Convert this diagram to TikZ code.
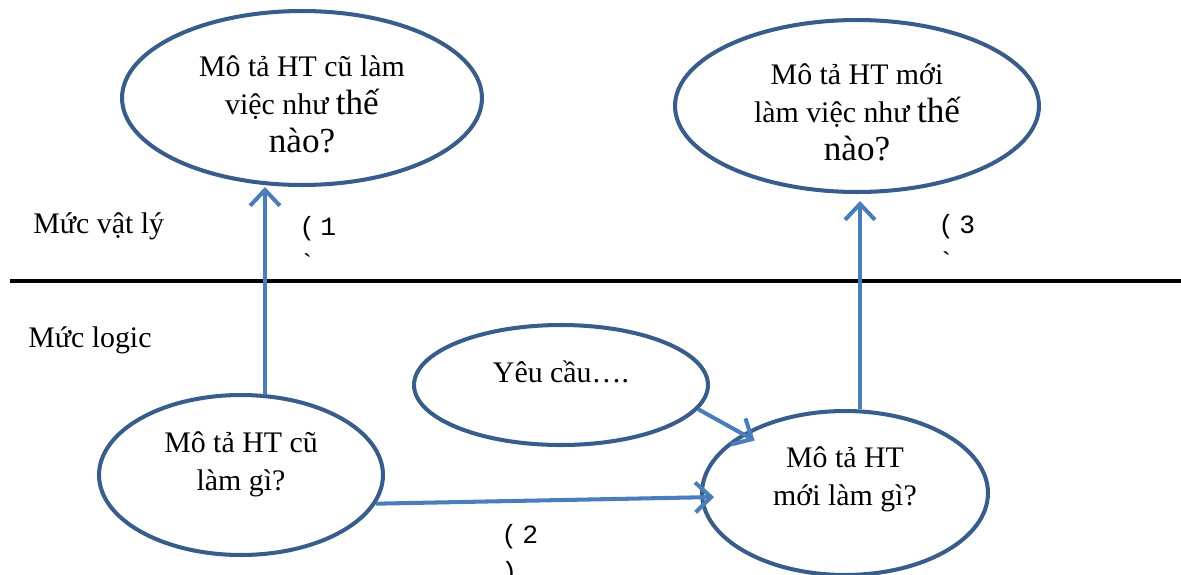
\documentclass[tikz,border=0pt]{standalone}
\usepackage{fontspec}
\setmainfont{Liberation Serif}
\setmonofont{Liberation Mono}
\usepackage{tikz}
\usetikzlibrary{arrows.meta,shapes.geometric,calc}
\definecolor{ovalblue}{HTML}{385D8A}
\definecolor{arrowblue}{HTML}{4A7EBB}
\tikzset{
  oval/.style={ellipse, draw=ovalblue, line width=2.3pt, inner sep=0pt},
  flow/.style={draw=arrowblue, line width=2.3pt, -{Straight Barb[length=9pt,width=17pt]}},
  txt/.style={align=center, font=\fontsize{17}{21.5}\selectfont, inner sep=0pt},
  num/.style={align=left, font=\ttfamily\fontsize{15}{21}\selectfont, inner sep=0pt},
}
\newcommand{\bigword}[1]{{\fontsize{20}{23}\selectfont #1}}

\begin{document}
\begin{tikzpicture}[x=0.02cm, y=-0.02cm]
\useasboundingbox (0,0) rectangle (1181,575);
% levels
\draw[line width=2.3pt] (10,281) -- (1181,281);
\node[txt, anchor=base west] (phys) at (33,233) {Mức vật lý};
\node[txt, anchor=base west] (logic) at (28,347) {Mức logic};
% ovals
\node[oval, minimum width=7.2cm, minimum height=3.48cm] (oldhow) at (302,98) {};
\node[oval, minimum width=7.28cm, minimum height=3.44cm] (newhow) at (857,106) {};
\node[oval, minimum width=5.88cm, minimum height=2.4cm] (req) at (561,385) {};
\node[oval, minimum width=5.68cm, minimum height=3.2cm] (olddo) at (241,475) {};
\node[oval, minimum width=5.72cm, minimum height=3.28cm] (newdo) at (845,493) {};
% base = last line
\node[txt, anchor=base] (oldhowtext) at (302,152) {Mô tả HT cũ làm\\việc như \bigword{thế}\\\bigword{nào?}};
\node[txt, anchor=base] (newhowtext) at (857,160) {Mô tả HT mới\\làm việc như \bigword{thế}\\\bigword{nào?}};
\node[txt, anchor=base] (reqtext) at (561,382) {Yêu cầu….};
\node[txt, anchor=base] (olddotext) at (241,490) {Mô tả HT cũ\\làm gì?};
\node[txt, anchor=base] (newdotext) at (845,505) {Mô tả HT\\mới làm gì?};
% steps
\coordinate (foot1) at ($(olddo.north)+(24,2)$);
\coordinate (foot3) at ($(newdo.north)+(15,0)$);
\draw[flow] (foot1) -- (foot1 |- oldhow.south);
\draw[flow, shorten >=4pt] (foot3) -- (foot3 |- newhow.south);
\draw[flow] (olddo.-12) -- ([xshift=8pt,yshift=-2.3pt]newdo.west);
\draw[flow, shorten >=-8pt] (req.-10) -- (newdo.150);
\node[num, anchor=base west] (step1) at (299,272) {(\kern3pt1\\\textasciigrave};
\node[num, anchor=base west] (step3) at (938,270) {(\kern3pt3\\\textasciigrave};
\node[num, anchor=base west] (step2) at (501,580) {(\kern3pt2\\)};
\end{tikzpicture}
\end{document}
